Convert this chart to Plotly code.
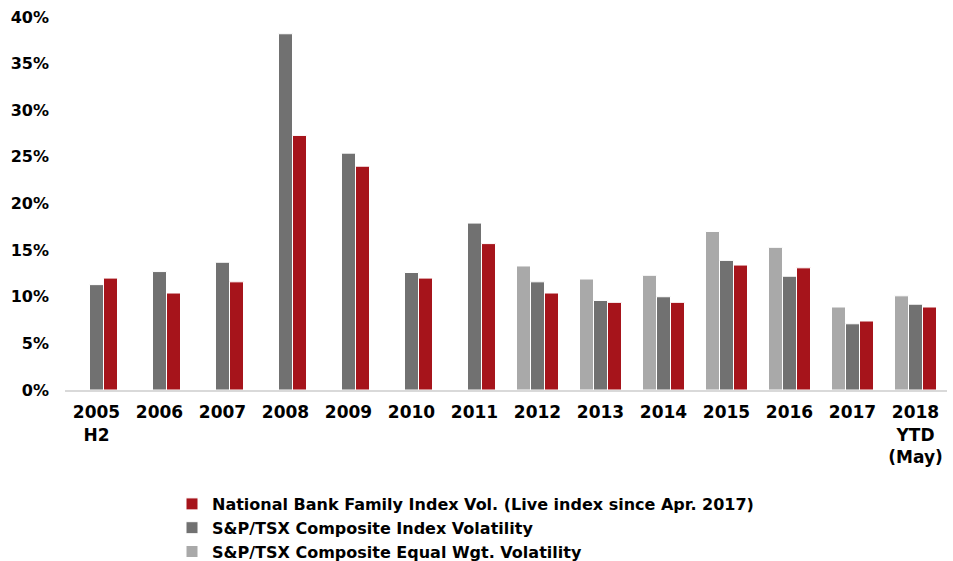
import plotly.graph_objects as go

categories = ["2005<br>H2", "2006", "2007", "2008", "2009", "2010", "2011",
              "2012", "2013", "2014", "2015", "2016", "2017", "2018<br>YTD<br>(May)"]
equal_wgt = [None, None, None, None, None, None, None,
             0.133, 0.119, 0.123, 0.170, 0.153, 0.089, 0.101]
composite = [0.113, 0.127, 0.137, 0.382, 0.254, 0.126, 0.179,
             0.116, 0.096, 0.100, 0.139, 0.122, 0.071, 0.092]
national = [0.120, 0.104, 0.116, 0.273, 0.240, 0.120, 0.157,
            0.104, 0.094, 0.094, 0.134, 0.131, 0.074, 0.089]
y_ticks = [0, 0.05, 0.10, 0.15, 0.20, 0.25, 0.30, 0.35, 0.40]

FONT = "DejaVu Sans"

fig = go.Figure()
fig.add_trace(go.Bar(x=categories, y=equal_wgt, name="S&P/TSX Composite Equal Wgt. Volatility",
                     marker=dict(color="#A9A9A9", line=dict(color="white", width=1))))
fig.add_trace(go.Bar(x=categories, y=composite, name="S&P/TSX Composite Index Volatility",
                     marker=dict(color="#717171", line=dict(color="white", width=1))))
fig.add_trace(go.Bar(x=categories, y=national, name="National Bank Family Index Vol. (Live index since Apr. 2017)",
                     marker=dict(color="#A6141B", line=dict(color="white", width=1))))

L, R, T, B = 65, 6, 17, 171
pw, ph = 953 - L - R, 561 - T - B

fig.update_layout(
    width=953, height=561,
    barmode="group", bargap=1/3, bargroupgap=0,
    plot_bgcolor="white", paper_bgcolor="white",
    margin=dict(l=L, r=R, t=T, b=B, autoexpand=False),
    font=dict(family=FONT, size=16, color="black"),
    showlegend=True,
    legend=dict(traceorder="reversed",
                x=(172 - L) / pw, y=(390 - 487) / ph, xanchor="left", yanchor="top",
                font=dict(family=FONT, size=16, color="black", weight="bold"),
                itemwidth=30, tracegroupgap=0, bgcolor="rgba(0,0,0,0)"),
)
fig.update_xaxes(showline=True, linecolor="#D9D9D9", linewidth=2, ticks="", tickangle=0,
                 ticklabelstandoff=6,
                 tickfont=dict(family=FONT, size=17, weight="bold"), showgrid=False)
fig.update_yaxes(range=[0, 0.40], tickvals=y_ticks, tickformat=".0%", showgrid=False,
                 zeroline=False, showline=False, ticks="", ticklabelstandoff=15,
                 tickfont=dict(family=FONT, size=16, weight="bold"))

fig.write_html("out.html")
